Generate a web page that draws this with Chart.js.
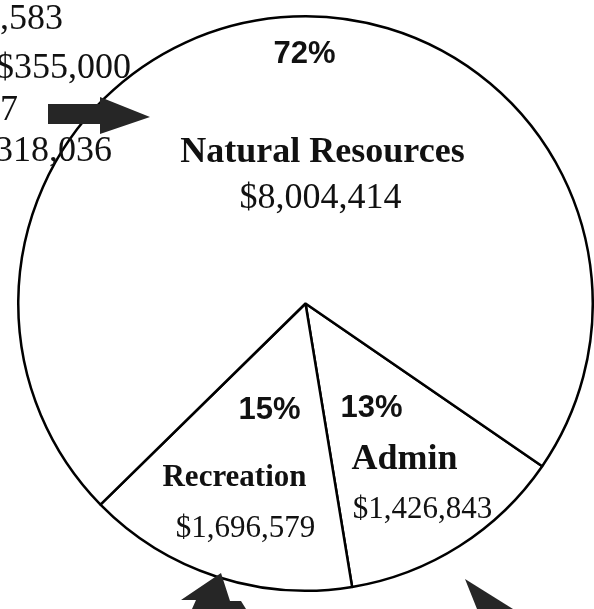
<!DOCTYPE html>
<html>
<head>
<meta charset="utf-8">
<script src="https://cdn.jsdelivr.net/npm/chart.js@4"></script>
<style>
  body { margin: 0; background: #fff; }
  #wrap { width: 594px; height: 609px; position: relative; }
</style>
</head>
<body>
<div id="wrap"><canvas id="pieChart"></canvas></div>
<script>
// slices, clockwise from the Admin wedge
var labels = ['Admin', 'Recreation', 'Natural Resources'];
var amounts = [1426843, 1696579, 8004414];
var percents = ['13%', '15%', '72%'];

// cut-off labels of the small slices at the left edge of the page
var leftTexts = [',583', '$355,000', '7', '318,036'];

function money(x) {
    return '$' + x.toString().replace(/\B(?=(\d{3})+(?!\d))/g, ',');
}

// label placement, as offsets from the pie centre
var labelSpots = [
    { pct: [66, 113], name: [99, 165, 'bold 36px "Liberation Serif"'], amt: [117, 214, '31px "Liberation Serif"'] },
    { pct: [-36, 115], name: [-71, 182, 'bold 31px "Liberation Serif"'], amt: [-60, 233, '31px "Liberation Serif"'] },
    { pct: [-1, -241], name: [17, -142, 'bold 36px "Liberation Serif"'], amt: [15, -96, '36px "Liberation Serif"'] }
];

var extras = {
    id: 'extras',
    afterDraw: function (chart) {
        var ctx = chart.ctx;
        var arc = chart.getDatasetMeta(0).data[0];
        var cx = arc.x, cy = arc.y;
        ctx.save();
        ctx.fillStyle = '#111';
        ctx.textAlign = 'center';
        ctx.textBaseline = 'alphabetic';
        labels.forEach(function (lab, i) {
            var s = labelSpots[i];
            ctx.font = 'bold 31px "Liberation Sans"';
            ctx.fillText(percents[i], cx + s.pct[0], cy + s.pct[1]);
            ctx.font = s.name[2];
            ctx.fillText(lab, cx + s.name[0], cy + s.name[1]);
            ctx.font = s.amt[2];
            ctx.fillText(money(amounts[i]), cx + s.amt[0], cy + s.amt[1]);
        });

        // truncated text at left
        ctx.textAlign = 'right';
        ctx.font = '36px "Liberation Serif"';
        var lx = [63, 131, 18, 112], ly = [29, 78, 120, 161];
        leftTexts.forEach(function (t, i) { ctx.fillText(t, lx[i], ly[i]); });

        // arrows
        ctx.fillStyle = '#262626';
        var arrows = [
            [[48, 104], [100, 104], [100, 97], [150, 117], [100, 134], [100, 124], [48, 124]],
            [[221, 573], [181, 600], [196, 600], [192, 609], [246, 609], [241, 601], [230, 601]],
            [[465, 579], [477, 609], [513, 609]]
        ];
        arrows.forEach(function (pts) {
            ctx.beginPath();
            ctx.moveTo(pts[0][0], pts[0][1]);
            for (var k = 1; k < pts.length; k++) ctx.lineTo(pts[k][0], pts[k][1]);
            ctx.closePath();
            ctx.fill();
        });
        ctx.restore();
    }
};

var ctx = document.getElementById('pieChart');
var myPieChart = new Chart(ctx, {
    type: 'pie',
    data: {
        labels: labels,
        datasets: [{
            data: amounts,
            backgroundColor: '#ffffff',
            borderColor: '#000000',
            borderWidth: 2.5
        }]
    },
    options: {
        responsive: true,
        maintainAspectRatio: false,
        animation: false,
        rotation: 124.5,
        layout: { padding: { left: 17, right: 0, top: 15, bottom: 17 } },
        plugins: {
            legend: { display: false },
            tooltip: { enabled: false }
        }
    },
    plugins: [extras]
});
</script>
</body>
</html>
